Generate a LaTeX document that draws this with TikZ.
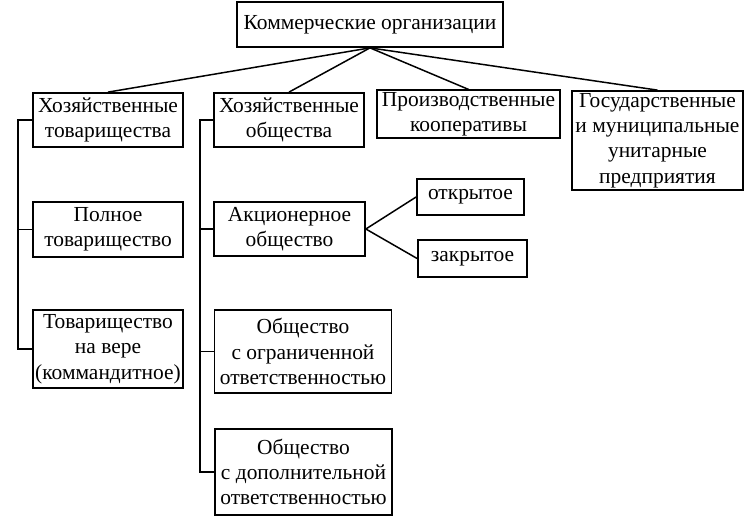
\documentclass[tikz,border=0pt]{standalone}
\usepackage{fontspec}
\setmainfont{Liberation Serif}
\usetikzlibrary{calc}
\tikzset{
	orgbox/.style={draw, line width=1pt, align=center, inner sep=1pt,
		font=\fontsize{12.2}{14.4}\selectfont},
	link/.style={line width=0.85pt}
}

\begin{document}
\begin{tikzpicture}[x=0.02cm, y=-0.02cm]
		%%%%% START %%%%%
		
		\useasboundingbox (0, 0) rectangle (750, 523);
		
		\node[orgbox, minimum width=5.32cm, minimum height=0.9cm] (kom) at (370, 24.5) {Коммерческие организации};
		
		\node[orgbox, minimum width=3.0cm, minimum height=1.08cm] (hoztov) at (108, 120) {Хозяйственные\\товарищества};
		\node[orgbox, minimum width=3.0cm, minimum height=1.08cm] (hozobsh) at (289, 120) {Хозяйственные\\общества};
		\node[orgbox, minimum width=3.66cm, minimum height=0.92cm] (koop) at (468.5, 114) {Производственные\\кооперативы};
		\node[orgbox, minimum width=3.42cm, minimum height=1.98cm] (unit) at (657.5, 140.5) {Государственные\\и муниципальные\\унитарные\\предприятия};
		
		\node[orgbox, minimum width=3.0cm, minimum height=1.1cm] (polnoe) at (108, 229.5) {Полное\\товарищество};
		\node[orgbox, minimum width=3.0cm, minimum height=1.56cm] (vera) at (108, 349) {Товарищество\\на вере\\(коммандитное)};
		
		\node[orgbox, minimum width=3.02cm, minimum height=1.08cm] (ao) at (289.5, 229) {Акционерное\\общество};
		\node[orgbox, minimum width=3.54cm, minimum height=1.66cm] (ooo) at (303, 351.5) {Общество\\с ограниченной\\ответственностью};
		\node[orgbox, minimum width=3.54cm, minimum height=1.72cm] (odo) at (303.5, 472) {Общество\\с дополнительной\\ответственностью};
		
		\node[orgbox, minimum width=2.14cm, minimum height=0.72cm] (otkr) at (470.5, 197) {открытое};
		\node[orgbox, minimum width=2.18cm, minimum height=0.74cm] (zakr) at (472.5, 258.5) {закрытое};
		
		% from the top box
		\draw[link] (kom.south) -- (hoztov.north);
		\draw[link] (kom.south) -- (hozobsh.north);
		\draw[link] (kom.south) -- (koop.north);
		\draw[link] (kom.south) -- (unit.north);
		
		% left rail
		\coordinate (lrail) at (18, 0);
		\draw[link] (hoztov.west) -- (hoztov.west -| lrail) -- (vera.west -| lrail) -- (vera.west);
		\draw[link] (polnoe.west) -- (polnoe.west -| lrail);
		
		% middle rail
		\coordinate (mrail) at (200, 0);
		\draw[link] (hozobsh.west) -- (hozobsh.west -| mrail) -- (odo.west -| mrail) -- (odo.west);
		\draw[link] (ao.west) -- (ao.west -| mrail);
		\draw[link] (ooo.west) -- (ooo.west -| mrail);
		
		\draw[link] (otkr.west) -- (ao.east) -- (zakr.west);
		
		%%%%% END %%%%%
	\end{tikzpicture}
\end{document}
